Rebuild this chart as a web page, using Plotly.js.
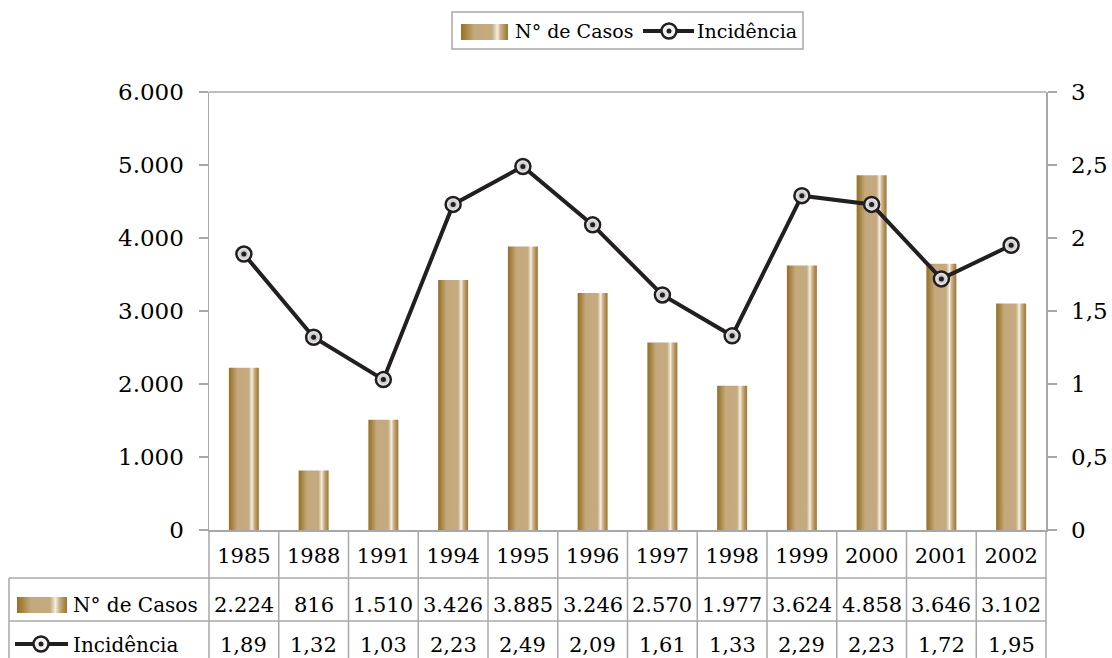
<!DOCTYPE html>
<html>
<head>
<meta charset="utf-8">
<script src="https://cdn.plot.ly/plotly-3.0.1.min.js"></script>
<style>
  html, body { margin: 0; padding: 0; background: #fff; }
  #chart { width: 1112px; height: 658px; }
</style>
</head>
<body>
<div id="chart"></div>
<script>
// ---- data ----
const years = ['1985','1988','1991','1994','1995','1996','1997','1998','1999','2000','2001','2002'];
const casos = [2224, 816, 1510, 3426, 3885, 3246, 2570, 1977, 3624, 4858, 3646, 3102];
const incidencia = [1.89, 1.32, 1.03, 2.23, 2.49, 2.09, 1.61, 1.33, 2.29, 2.23, 1.72, 1.95];
const seriesNames = ['N° de Casos', 'Incidência'];

// ---- geometry helpers (pixel -> paper) ----
const W = 1112, H = 658;
const L = 209, R = 1046, T = 92, B = 530;
const px = x => (x - L) / (R - L);
const py = y => (B - y) / (B - T);

const FONT = 'DejaVu Serif';
const GRID = '#a8a8a8';
const LINEC = '#231f20';
const SENTINEL = 'rgb(196, 170, 127)';

const fmtInt = n => String(n).replace(/\B(?=(\d{3})+(?!\d))/g, '.');
const fmtDec = v => v.toFixed(2).replace('.', ',');

const traces = [
  {
    type: 'bar', name: seriesNames[0], x: years, y: casos,
    width: 0.43, marker: { color: SENTINEL, line: { width: 0 } },
    showlegend: false, hoverinfo: 'x+y'
  },
  {
    type: 'scatter', mode: 'lines+markers', name: seriesNames[1], x: years, y: incidencia,
    yaxis: 'y2', showlegend: false,
    line: { color: LINEC, width: 4 },
    marker: { size: 15, color: '#ffffff', gradient: { type: 'radial', color: '#a0a0a0' },
              line: { color: LINEC, width: 2.5 } }
  },
  {
    type: 'scatter', mode: 'markers', name: seriesNames[1] + ' ', x: years, y: incidencia,
    yaxis: 'y2', showlegend: false, hoverinfo: 'skip',
    marker: { size: 5, color: LINEC }
  }
];

const shapes = [];
const annotations = [];

// top frame line
shapes.push({ type: 'line', xref: 'paper', yref: 'paper', x0: 0, x1: 1, y0: 1, y1: 1,
  line: { color: GRID, width: 1.5 } });

// table grid
const yBottom = py(H + 5);
for (let k = 0; k <= years.length; k++) {
  shapes.push({ type: 'line', xref: 'paper', yref: 'paper', x0: k / years.length, x1: k / years.length,
    y0: 0, y1: yBottom, line: { color: GRID, width: 1.5 } });
}
[578, 621].forEach(yy => shapes.push({ type: 'line', xref: 'paper', yref: 'paper',
  x0: px(9), x1: 1, y0: py(yy), y1: py(yy), line: { color: GRID, width: 1.5 } }));
shapes.push({ type: 'line', xref: 'paper', yref: 'paper', x0: px(9), x1: px(9),
  y0: py(578), y1: yBottom, line: { color: GRID, width: 1.5 } });

// table values (x = category index)
years.forEach((yr, i) => {
  annotations.push({ xref: 'x', yref: 'paper', x: i, y: py(605), text: fmtInt(casos[i]),
    showarrow: false, xanchor: 'center', yanchor: 'middle', font: { family: FONT, size: 21, color: '#000' } });
  annotations.push({ xref: 'x', yref: 'paper', x: i, y: py(645), text: fmtDec(incidencia[i]),
    showarrow: false, xanchor: 'center', yanchor: 'middle', font: { family: FONT, size: 21, color: '#000' } });
});

// key helpers
function barKey(x0, x1, y0, y1) {
  shapes.push({ type: 'rect', xref: 'paper', yref: 'paper', x0: px(x0), x1: px(x1), y0: py(y0), y1: py(y1),
    fillcolor: SENTINEL, line: { width: 0 } });
}
function lineKey(x0, x1, yc, cx) {
  shapes.push({ type: 'line', xref: 'paper', yref: 'paper', x0: px(x0), x1: px(x1), y0: py(yc), y1: py(yc),
    line: { color: LINEC, width: 4 } });
  shapes.push({ type: 'circle', xref: 'paper', yref: 'paper', x0: px(cx - 7.5), x1: px(cx + 7.5),
    y0: py(yc - 7.5), y1: py(yc + 7.5), fillcolor: '#f2f2f2', line: { color: LINEC, width: 2.5 } });
  shapes.push({ type: 'circle', xref: 'paper', yref: 'paper', x0: px(cx - 2.5), x1: px(cx + 2.5),
    y0: py(yc - 2.5), y1: py(yc + 2.5), fillcolor: LINEC, line: { width: 0 } });
}
function label(x, y, text, size) {
  annotations.push({ xref: 'paper', yref: 'paper', x: px(x), y: py(y), text: text, showarrow: false,
    xanchor: 'left', yanchor: 'middle', font: { family: FONT, size: size, color: '#000' } });
}

// table row keys
barKey(17, 67, 597, 613);
label(71, 605, seriesNames[0], 20);
lineKey(15, 68, 644, 41);
label(71, 645, seriesNames[1], 20);

// top legend (manual)
shapes.push({ type: 'rect', xref: 'paper', yref: 'paper', x0: px(452), x1: px(803), y0: py(12), y1: py(49),
  fillcolor: 'rgba(0,0,0,0)', line: { color: GRID, width: 1.5 } });
barKey(461, 508, 24, 40);
label(513, 31, seriesNames[0], 19);
lineKey(643, 694, 31, 669);
label(695, 31, seriesNames[1], 19);

const layout = {
  width: W, height: H,
  margin: { l: L, r: W - R, t: T, b: H - B, autoexpand: false },
  paper_bgcolor: '#ffffff', plot_bgcolor: '#ffffff',
  separators: ',.',
  showlegend: false,
  font: { family: FONT, color: '#000' },
  bargap: 0.57,
  xaxis: {
    type: 'category', range: [-0.5, years.length - 0.5],
    showline: true, linecolor: GRID, linewidth: 1.5,
    ticks: '', showgrid: false, zeroline: false,
    tickfont: { family: FONT, size: 21, color: '#000' },
    ticklabelstandoff: 6
  },
  yaxis: {
    range: [0, 6000], dtick: 1000, tickformat: ',d',
    showline: true, linecolor: GRID, linewidth: 1.5,
    ticks: 'outside', ticklen: 9, tickcolor: GRID, tickwidth: 1.5,
    showgrid: false, zeroline: false,
    tickfont: { family: FONT, size: 23, color: '#000' },
    ticklabelstandoff: 10
  },
  yaxis2: {
    overlaying: 'y', side: 'right', range: [0, 3], dtick: 0.5,
    showline: true, linecolor: GRID, linewidth: 1.5,
    ticks: 'outside', ticklen: 9, tickcolor: GRID, tickwidth: 1.5,
    showgrid: false, zeroline: false,
    tickfont: { family: FONT, size: 23, color: '#000' },
    ticklabelstandoff: 10
  },
  shapes: shapes,
  annotations: annotations
};

Plotly.newPlot('chart', traces, layout, { displayModeBar: false, staticPlot: true }).then(gd => {
  const svgNS = 'http://www.w3.org/2000/svg';
  const svg = gd.querySelector('.main-svg');
  let defs = svg.querySelector('defs');
  if (!defs) { defs = document.createElementNS(svgNS, 'defs'); svg.insertBefore(defs, svg.firstChild); }
  const grad = document.createElementNS(svgNS, 'linearGradient');
  grad.setAttribute('id', 'barGrad');
  grad.setAttribute('x1', '0'); grad.setAttribute('x2', '1');
  grad.setAttribute('y1', '0'); grad.setAttribute('y2', '0');
  [[0, '#96702c'], [0.1, '#a5823f'], [0.28, '#c3a97d'], [0.66, '#c4aa7e'],
   [0.77, '#f4eee4'], [0.84, '#cdb48e'], [0.93, '#b08e52'], [1, '#9c7734']].forEach(([o, c]) => {
    const s = document.createElementNS(svgNS, 'stop');
    s.setAttribute('offset', o); s.setAttribute('stop-color', c);
    grad.appendChild(s);
  });
  defs.appendChild(grad);
  gd.querySelectorAll('.barlayer .point path').forEach(p => { p.style.fill = 'url(#barGrad)'; });
  gd.querySelectorAll('.shapelayer path').forEach(p => {
    if (p.style.fill === SENTINEL) p.style.fill = 'url(#barGrad)';
  });
});
</script>
</body>
</html>
